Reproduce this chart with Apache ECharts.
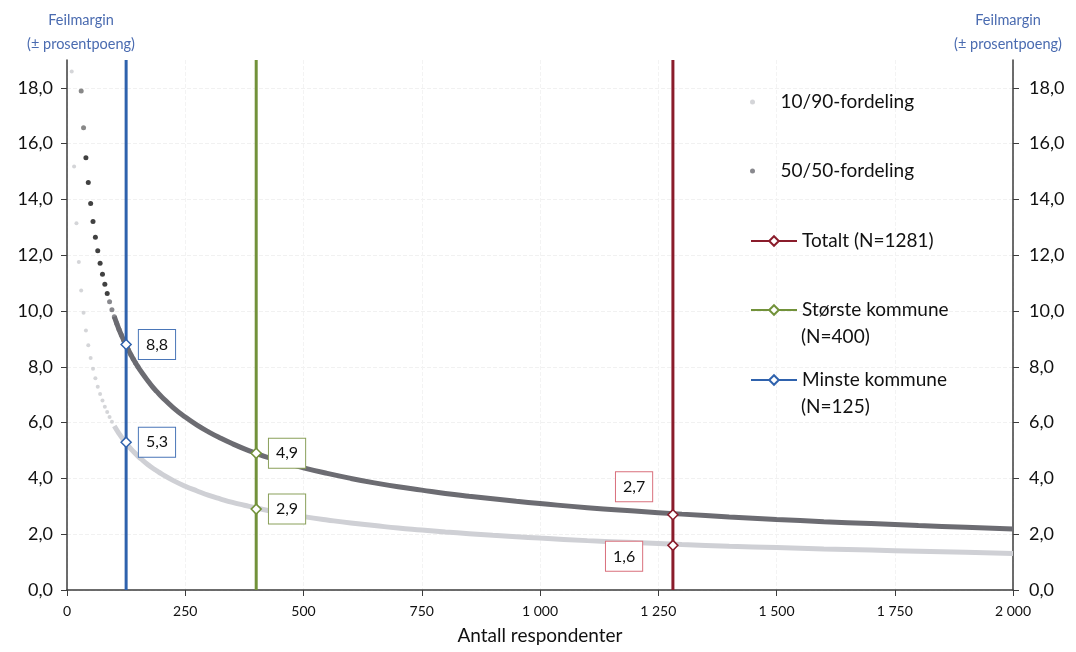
<!DOCTYPE html>
<html>
<head>
<meta charset="utf-8">
<script src="https://cdn.jsdelivr.net/npm/echarts@6/dist/echarts.min.js"></script>
<style>
html,body{margin:0;padding:0;background:#fff;}
#chart{width:1076px;height:652px;}
</style>
</head>
<body>
<div id="chart"></div>
<script>
// ---- data ----
const xTicks = [0, 250, 500, 750, 1000, 1250, 1500, 1750, 2000];
const yTicks = [0, 2, 4, 6, 8, 10, 12, 14, 16, 18];

// sparse dots at the start (respondents, margin)
const dots1090N = [10,15,20,25,30,35,40,45,50,55,60,65,70,75,80,85,90,95];
const dots1090  = [18.59,15.18,13.15,11.76,10.74,9.94,9.30,8.77,8.32,7.93,7.59,7.29,7.03,6.79,6.57,6.38,6.20,6.03];
const dots5050N = [30,35,40,45,50,55,60,65,70,75,80,85,90,95,100,105,110,115,120,125,130,135,140,145,150];
const dots5050  = [17.89,16.57,15.50,14.61,13.86,13.21,12.65,12.16,11.71,11.32,10.96,10.63,10.33,10.05,9.80,9.56,9.34,9.14,8.95,8.77,8.60,8.43,8.28,8.14,8.00];

// dense part of the curves
const lineN = [100,110,120,130,140,150,160,170,180,190,200,225,250,275,300,325,350,375,400,425,450,475,500,550,600,650,700,750,800,850,900,950,1000,1100,1200,1300,1400,1500,1600,1700,1800,1900,2000];
const line5050 = [9.80,9.34,8.95,8.60,8.28,8.00,7.75,7.52,7.30,7.11,6.93,6.53,6.20,5.91,5.66,5.44,5.24,5.06,4.90,4.75,4.62,4.50,4.38,4.18,4.00,3.84,3.70,3.58,3.46,3.36,3.27,3.18,3.10,2.95,2.83,2.72,2.62,2.53,2.45,2.38,2.31,2.25,2.19];
const line1090 = [5.88,5.61,5.37,5.16,4.97,4.80,4.65,4.51,4.38,4.27,4.16,3.92,3.72,3.55,3.39,3.26,3.14,3.04,2.94,2.85,2.77,2.70,2.63,2.51,2.40,2.31,2.22,2.15,2.08,2.02,1.96,1.91,1.86,1.77,1.70,1.63,1.57,1.52,1.47,1.43,1.39,1.35,1.31];

// reference lines
const refNames = ['Totalt (N=1281)', 'Største kommune\n(N=400)', 'Minste kommune\n(N=125)'];
const refN     = [1281, 400, 125];
const ref5050  = [2.7, 4.9, 8.8];
const ref1090  = [1.6, 2.9, 5.3];
const Y_MAX = 19;

// ---- styling ----
const FONT = 'Lato, "Open Sans", sans-serif';
const refColors = ['#8a1c2b', '#72923a', '#2f62ad'];
const boxColors = ['#d9707c', '#8aa05a', '#4a76b8'];
const fmtComma = v => v.toFixed(1).replace('.', ',');
const fmtThousand = v => String(v).replace(/\B(?=(\d{3})+(?!\d))/g, ' ');
const zip = (a, b) => a.map((v, i) => [v, b[i]]);

function boxLabel(v, i, upper) {
  const base = {
    show: true, formatter: fmtComma(v), color: '#111', fontFamily: FONT, fontSize: 16,
    lineHeight: 16, backgroundColor: '#fff', borderColor: boxColors[i], borderWidth: 1,
    padding: [7, 7, 6, 7]
  };
  if (i === 0) {
    return Object.assign(base, upper ? {position: 'left', distance: 15, offset: [0, -28]}
                                     : {position: 'left', distance: 25, offset: [0, 11]});
  }
  return Object.assign(base, {position: 'right', distance: 7});
}

const refSeries = refN.map((n, i) => ({
  name: refNames[i],
  type: 'line',
  symbol: 'diamond',
  symbolSize: 10,
  showAllSymbol: true,
  z: 5,
  lineStyle: {color: refColors[i], width: 3},
  itemStyle: {color: '#fff', borderColor: refColors[i], borderWidth: 1.5},
  emphasis: {disabled: true},
  data: [
    {value: [n, 0], symbol: 'none'},
    {value: [n, ref5050[i]], label: boxLabel(ref5050[i], i, true)},
    {value: [n, ref1090[i]], label: boxLabel(ref1090[i], i, false)},
    {value: [n, Y_MAX], symbol: 'none'}
  ]
}));

const chart = echarts.init(document.getElementById('chart'));
const axisLineStyle = {color: '#3c3c3c', width: 1.5};
const yAxisCommon = {
  type: 'value', min: 0, max: Y_MAX,
  axisLine: {show: true, lineStyle: axisLineStyle},
  axisTick: {show: true, length: 6, customValues: yTicks, lineStyle: {color: '#3c3c3c'}},
  axisLabel: {customValues: yTicks, formatter: fmtComma, color: '#111', fontFamily: FONT, fontSize: 18},
  splitLine: {show: true, lineStyle: {color: '#f1f1f1', type: 'dashed'}}
};

const legendCommon = {
  orient: 'vertical', left: 750, padding: 0, itemWidth: 46, itemHeight: 12,
  backgroundColor: 'transparent', selectedMode: false,
  textStyle: {fontFamily: FONT, fontSize: 19, color: '#111', lineHeight: 24},
  formatter: name => name.split('\n')[0]
};

chart.setOption({
  animation: false,
  backgroundColor: '#fff',
  grid: {left: 67, right: 63, top: 60, bottom: 62},
  xAxis: {
    type: 'value', min: 0, max: 2000, interval: 250,
    name: 'Antall respondenter', nameLocation: 'middle', nameGap: 36,
    nameTextStyle: {fontFamily: FONT, fontSize: 19, color: '#111'},
    axisLine: {show: true, lineStyle: axisLineStyle},
    axisTick: {show: true, length: 6, lineStyle: {color: '#3c3c3c'}},
    axisLabel: {formatter: fmtThousand, color: '#111', fontFamily: FONT, fontSize: 14, margin: 14,
                customValues: xTicks},
    splitLine: {show: true, lineStyle: {color: '#f3f3f3', type: 'dashed'}}
  },
  yAxis: [
    Object.assign({}, yAxisCommon, {position: 'left', axisLabel: Object.assign({}, yAxisCommon.axisLabel, {margin: 14})}),
    Object.assign({}, yAxisCommon, {position: 'right', splitLine: {show: false},
      axisLabel: Object.assign({}, yAxisCommon.axisLabel, {margin: 16})})
  ],
  legend: [
    Object.assign({}, legendCommon, {top: 90, itemHeight: 5,
      data: [{name: '10/90-fordeling', icon: 'circle', itemStyle: {color: '#c9cace'}}]}),
    Object.assign({}, legendCommon, {top: 159, itemHeight: 5,
      data: [{name: '50/50-fordeling', icon: 'circle', itemStyle: {color: '#6c6c72'}}]}),
    Object.assign({}, legendCommon, {top: 229, data: [refNames[0]]}),
    Object.assign({}, legendCommon, {top: 298, data: [refNames[1]]}),
    Object.assign({}, legendCommon, {top: 368, data: [refNames[2]]})
  ],
  graphic: [
    {type: 'text', x: 81, y: 32, style: {text: 'Feilmargin\n(± prosentpoeng)', align: 'center', verticalAlign: 'middle',
      fill: '#4a6bb0', font: '14.5px ' + FONT, lineHeight: 24}},
    {type: 'text', x: 1008, y: 32, style: {text: 'Feilmargin\n(± prosentpoeng)', align: 'center', verticalAlign: 'middle',
      fill: '#4a6bb0', font: '14.5px ' + FONT, lineHeight: 24}},
    {type: 'text', x: 801, y: 337, style: {text: '(N=400)', align: 'left', verticalAlign: 'middle',
      fill: '#111', font: '19px ' + FONT}},
    {type: 'text', x: 801, y: 407, style: {text: '(N=125)', align: 'left', verticalAlign: 'middle',
      fill: '#111', font: '19px ' + FONT}}
  ],
  series: [
    {
      name: '10/90-fordeling', type: 'scatter', symbolSize: 4, z: 2,
      itemStyle: {color: '#c9cace'}, emphasis: {disabled: true},
      data: zip(dots1090N, dots1090)
    },
    {
      name: '10/90-fordeling', type: 'line', smooth: true, showSymbol: false, z: 2,
      lineStyle: {color: '#cfd0d5', width: 5}, itemStyle: {color: '#c9cace'}, emphasis: {disabled: true},
      data: zip(lineN, line1090)
    },
    {
      name: '50/50-fordeling', type: 'scatter', symbolSize: 5, z: 3,
      itemStyle: {color: p => p.value[0] < 40 ? '#6a6a6a' : (p.value[0] < 90 ? '#111111' : '#6c6c72')},
      emphasis: {disabled: true},
      data: zip(dots5050N, dots5050)
    },
    {
      name: '50/50-fordeling', type: 'line', smooth: true, showSymbol: false, z: 3,
      lineStyle: {color: '#6c6c72', width: 5}, itemStyle: {color: '#6c6c72'}, emphasis: {disabled: true},
      data: zip(lineN, line5050)
    }
  ].concat(refSeries)
});
</script>
</body>
</html>
